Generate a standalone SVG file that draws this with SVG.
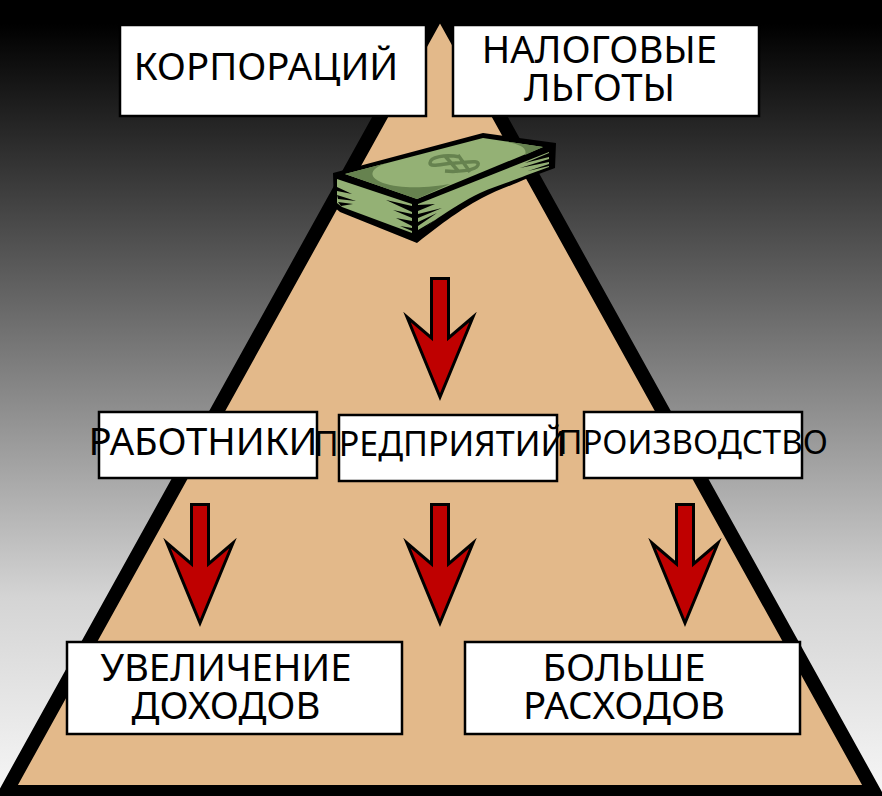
<svg xmlns="http://www.w3.org/2000/svg" width="882" height="796" viewBox="0 0 882 796">
<style>
.box{fill:#fff;stroke:#000;stroke-width:2.5}
.t{font-family:"Noto Sans",sans-serif;fill:#000;text-anchor:middle;font-size:38.3px}
.arrow{fill:#bf0000;stroke:#000;stroke-width:3;stroke-miterlimit:12}
.g{fill:#94b175}
.d{fill:#66824f}
</style>
<defs>
<linearGradient id="bg" x1="0" y1="0" x2="0" y2="1"><stop offset="0.03" stop-color="#000"/><stop offset="0.5" stop-color="#8a8a8a"/><stop offset="0.75" stop-color="#d4d4d4"/><stop offset="1" stop-color="#f6f6f6"/></linearGradient>
<path id="a" class="arrow" d="M-8.5 -118.5H8.5V-59L33 -80L0 0L-33 -80L-8.5 -59Z"/>
</defs>
<rect width="882" height="796" fill="url(#bg)"/>
<path d="M440 9L874 792H6Z" fill="#e3b98a" stroke="#000" stroke-width="14" stroke-linejoin="miter"/>
<g id="connectors">
<use href="#a" x="440" y="397"/>
<use href="#a" x="200" y="623"/>
<use href="#a" x="440" y="623"/>
<use href="#a" x="685" y="623"/>
</g>
<g id="money">
<path d="M333 173L483 133L556 143L555 168L528 178C510 186 495 191 482 198C465 207 450 217 417 243L340 212L334 207Z" fill="#000"/>
<path class="g" d="M345 174L483 138L543 147L417 199Z"/>
<path class="d" d="M345 174L387 163C370 168 367 177 383 183C403 190 433 187 450 184L417 199Z"/>
<path class="d" d="M503 141L543 147L525 155C528 147 518 144 503 141Z"/>
<path d="M460 157C445 154 430 157 430 163C430 168 445 163 455 163C470 162 480 160 478 165C476 171 455 172 445 171M445 156L459 172M458 155L470 172" fill="none" stroke="#66824f" stroke-width="3.5"/>
<path class="g" d="M337 179L412 204V233L342 207L337 203Z"/>
<path class="g" d="M418 204L549 152V167L527 175C510 182 495 186 480 193C465 200 450 210 438 218L418 232Z"/>
<path d="M337 187L352 194L337 191ZM337 195L356 201L338 199ZM338 202L353 204L341 206ZM412 206L386 200L412 212ZM412 214L393 210L412 218ZM412 221L396 218L412 226ZM412 228L400 226L412 231ZM418 205L435 204L418 211ZM418 214L442 208L418 218ZM418 222L437 213L418 226ZM418 230L435 220L418 233ZM549 153L525 163L549 157ZM549 159L520 168L549 162ZM549 164L528 171L549 166Z" fill="#000"/>
</g>
<g id="n1"><rect class="box" x="120" y="25" width="306" height="91"/><text class="t" x="266" y="80">КОРПОРАЦИЙ</text></g>
<g id="n2"><rect class="box" x="453" y="25" width="306" height="91"/><text class="t" x="599.5" y="63">НАЛОГОВЫЕ</text><text class="t" x="599.5" y="101">ЛЬГОТЫ</text></g>
<g id="n3"><rect class="box" x="99" y="412" width="218" height="66"/><text class="t" x="203" y="455">РАБОТНИКИ</text></g>
<g id="n4"><rect class="box" x="339" y="415" width="218" height="66"/><text class="t" x="440" y="456" style="font-size:34px">ПРЕДПРИЯТИЙ</text></g>
<g id="n5"><rect class="box" x="584" y="412" width="218" height="66"/><text class="t" x="693" y="454" style="font-size:33px">ПРОИЗВОДСТВО</text></g>
<g id="n6"><rect class="box" x="67" y="642" width="335" height="92"/><text class="t" x="226" y="681">УВЕЛИЧЕНИЕ</text><text class="t" x="226" y="719">ДОХОДОВ</text></g>
<g id="n7"><rect class="box" x="465" y="642" width="335" height="92"/><text class="t" x="624" y="681">БОЛЬШЕ</text><text class="t" x="624" y="719">РАСХОДОВ</text></g>
</svg>
